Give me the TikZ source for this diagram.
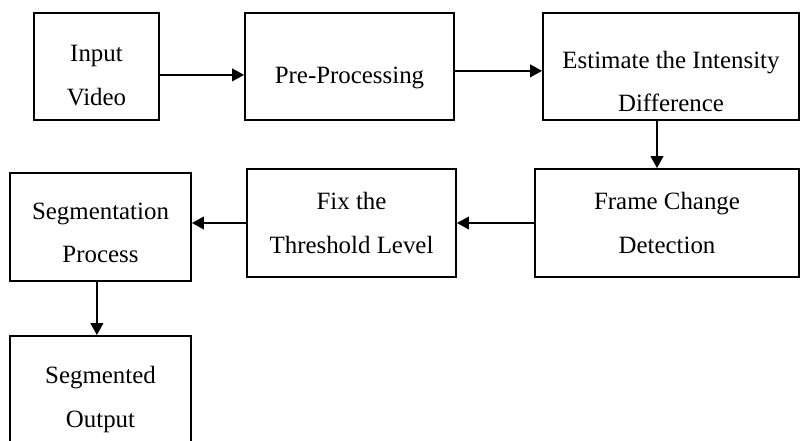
\documentclass[tikz,border=0pt]{standalone}
\usepackage{fontspec}
\setmainfont{Liberation Serif}
\usetikzlibrary{arrows.meta}

\newcommand{\lift}[1]{\rule{0pt}{#1}}

\begin{document}
\begin{tikzpicture}[x=0.025cm,y=-0.025cm]

\tikzset{box/.style = {shape=rectangle,draw,line width=1.3pt,align=center,
  inner sep=0pt,font=\fontsize{17.7}{31}\selectfont}}
\tikzset{edge/.style = {->,line width=1.3pt,> = {Triangle[length=8.5pt,width=9pt]}}}

\useasboundingbox (0,0) rectangle (801,440);
\clip (0,0) rectangle (801,440);

% boxes
\node[box,minimum width=3.125cm,minimum height=2.675cm] (inp) at (96.5,66.5) {\lift{24.4pt}Input\\Video};
\node[box,minimum width=5.225cm,minimum height=2.675cm] (pre) at (349.5,66.5) {\lift{27.4pt}Pre-Processing};
\node[box,minimum width=6.4cm,minimum height=2.675cm] (est) at (671,66.5) {\lift{33.6pt}Estimate the Intensity\\Difference};

\node[box,minimum width=6.6cm,minimum height=2.7cm] (frm) at (667,223) {Frame Change\\Detection};
\node[box,minimum width=5.225cm,minimum height=2.7cm] (fix) at (351.5,223) {Fix the\\Threshold Level};
\node[box,minimum width=4.525cm,minimum height=2.7cm] (seg) at (100.5,227) {\lift{20.2pt}Segmentation\\Process};

\node[box,minimum width=4.525cm,minimum height=2.7cm] (out) at (100.5,390) {\lift{26pt}Segmented\\Output};

%edges
\draw[edge] ([yshift=-0.21cm]inp.east) to ([yshift=-0.21cm]pre.west);
\draw[edge] ([yshift=-0.11cm]pre.east) to ([yshift=-0.11cm]est.west);
\draw[edge] ([xshift=-0.35cm]est.south) to ([xshift=-0.35cm]est.south |- frm.north);
\draw[edge] (frm.west) to (frm.west -| fix.east);
\draw[edge] (fix.west) to (fix.west -| seg.east);
\draw[edge] ([xshift=-0.09cm]seg.south) to ([xshift=-0.09cm]seg.south |- out.north);

\end{tikzpicture}
\end{document}
